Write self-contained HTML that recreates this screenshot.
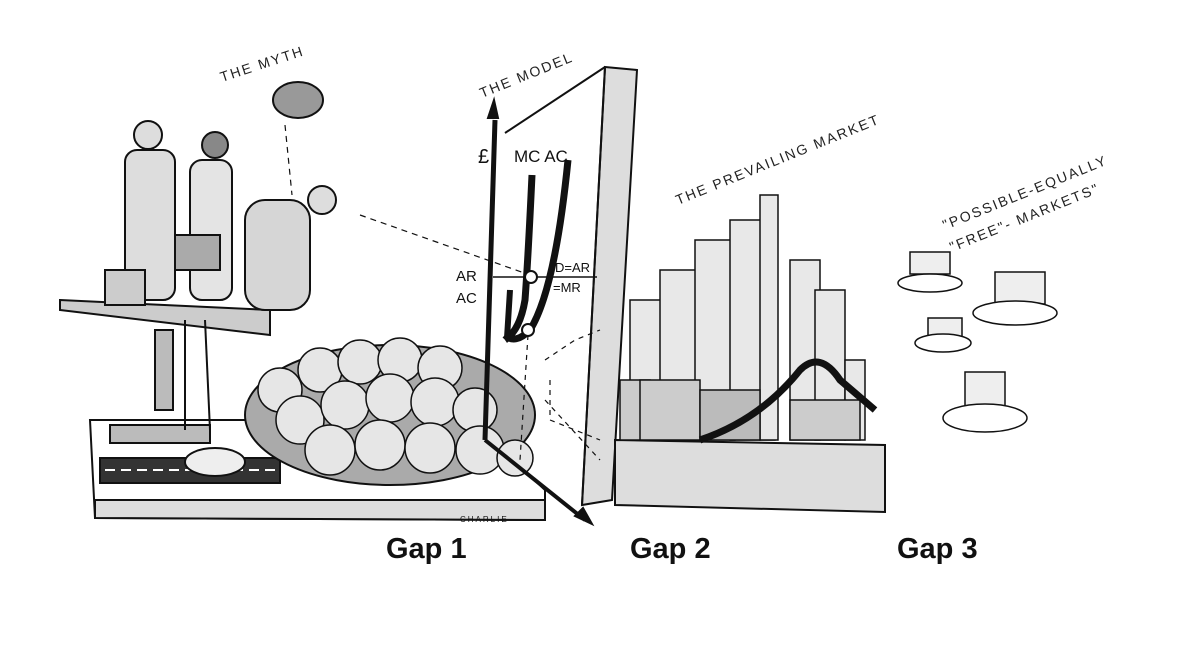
<!DOCTYPE html>
<html><head><meta charset="utf-8"><style>
body{margin:0;background:#fff;width:1200px;height:653px;overflow:hidden}
svg{display:block}
.h{font-family:"Liberation Sans",sans-serif;font-size:14px;fill:#222;letter-spacing:2px}
.g{font-family:"Liberation Sans",sans-serif;font-weight:bold;font-size:29px;fill:#111}
</style></head><body>
<svg width="1200" height="653" viewBox="0 0 1200 653" xmlns="http://www.w3.org/2000/svg" stroke="#111" stroke-width="2" fill="none">
<!-- left slab -->
<polygon points="90,420 470,420 545,490 545,520 95,518" fill="#fff"/>
<polygon points="95,500 545,500 545,520 95,518" fill="#ddd"/>
<rect x="100" y="458" width="180" height="25" fill="#333"/>
<line x1="105" y1="470" x2="275" y2="470" stroke="#fff" stroke-dasharray="10,6"/>
<rect x="110" y="425" width="100" height="18" fill="#bbb"/>
<ellipse cx="215" cy="462" rx="30" ry="14" fill="#eee"/>
<!-- trees -->
<ellipse cx="390" cy="415" rx="145" ry="70" fill="#aaa"/>
<g fill="#e6e6e6" stroke-width="1.5">
<circle cx="280" cy="390" r="22"/><circle cx="320" cy="370" r="22"/><circle cx="360" cy="362" r="22"/><circle cx="400" cy="360" r="22"/><circle cx="440" cy="368" r="22"/>
<circle cx="300" cy="420" r="24"/><circle cx="345" cy="405" r="24"/><circle cx="390" cy="398" r="24"/><circle cx="435" cy="402" r="24"/><circle cx="475" cy="410" r="22"/>
<circle cx="330" cy="450" r="25"/><circle cx="380" cy="445" r="25"/><circle cx="430" cy="448" r="25"/><circle cx="480" cy="450" r="24"/><circle cx="515" cy="458" r="18"/>
</g>
<!-- telescope & figures -->
<polygon points="60,300 270,310 270,335 60,310" fill="#ccc"/>
<rect x="155" y="330" width="18" height="80" fill="#bbb"/>
<line x1="185" y1="320" x2="185" y2="430"/><line x1="205" y1="320" x2="210" y2="430"/>
<circle cx="148" cy="135" r="14" fill="#ddd"/>
<rect x="125" y="150" width="50" height="150" rx="12" fill="#ddd"/>
<circle cx="215" cy="145" r="13" fill="#888"/>
<rect x="190" y="160" width="42" height="140" rx="12" fill="#e4e4e4"/>
<rect x="105" y="270" width="40" height="35" fill="#ccc"/>
<rect x="175" y="235" width="45" height="35" fill="#aaa"/>
<circle cx="322" cy="200" r="14" fill="#ddd"/>
<rect x="245" y="200" width="65" height="110" rx="20" fill="#d6d6d6"/>
<ellipse cx="298" cy="100" rx="25" ry="18" fill="#999"/>
<line x1="285" y1="125" x2="292" y2="195" stroke-dasharray="6,5" stroke-width="1.2"/>
<line x1="360" y1="215" x2="530" y2="275" stroke-dasharray="6,5" stroke-width="1.2"/>
<!-- board -->
<polygon points="605,67 637,70 612,500 582,505" fill="#ddd"/>
<line x1="505" y1="133" x2="605" y2="67"/>
<line x1="605" y1="67" x2="582" y2="505"/>
<line x1="485" y1="440" x2="495" y2="120" stroke-width="5"/>
<polygon points="488,118 498,118 494,100" fill="#111"/>
<line x1="485" y1="440" x2="585" y2="520" stroke-width="4"/>
<polygon points="575,516 592,524 583,508" fill="#111"/>
<line x1="493" y1="277" x2="597" y2="277" stroke-width="1.5"/>
<path d="M532 175 Q528 260 525 300 Q520 330 505 340" stroke-width="7"/>
<path d="M568 160 Q555 290 530 330 Q515 345 505 335" stroke-width="7"/>
<path d="M510 290 L507 338" stroke-width="6"/>
<circle cx="531" cy="277" r="6" fill="#fff"/><circle cx="528" cy="330" r="6" fill="#fff"/>
<line x1="528" y1="335" x2="520" y2="460" stroke-dasharray="5,5" stroke-width="1.2"/>
<path d="M545 360 L575 340 L600 330 M550 380 L550 420 L600 440 M545 400 L600 460" stroke-dasharray="5,5" stroke-width="1.2"/>
<text x="478" y="163" stroke="none" fill="#111" style="font-family:Liberation Sans;font-size:20px">£</text>
<text x="514" y="162" stroke="none" fill="#111" style="font-family:Liberation Sans;font-size:17px">MC AC</text>
<text x="456" y="281" stroke="none" fill="#111" style="font-family:Liberation Sans;font-size:15px">AR</text>
<text x="456" y="303" stroke="none" fill="#111" style="font-family:Liberation Sans;font-size:15px">AC</text>
<text x="555" y="272" stroke="none" fill="#111" style="font-family:Liberation Sans;font-size:13px">D=AR</text>
<text x="553" y="292" stroke="none" fill="#111" style="font-family:Liberation Sans;font-size:13px">=MR</text>
<!-- city slab -->
<polygon points="615,440 885,445 885,512 615,505" fill="#ddd"/>
<g fill="#e8e8e8" stroke-width="1.5">
<rect x="630" y="300" width="35" height="140"/><rect x="660" y="270" width="40" height="170"/><rect x="695" y="240" width="40" height="200"/>
<rect x="730" y="220" width="45" height="220"/><rect x="760" y="195" width="18" height="245"/><rect x="790" y="260" width="30" height="180"/>
<rect x="815" y="290" width="30" height="150"/><rect x="845" y="360" width="20" height="80"/>
<rect x="620" y="380" width="30" height="60" fill="#ccc"/>
<rect x="640" y="380" width="60" height="60" fill="#ccc"/><rect x="700" y="390" width="60" height="50" fill="#bbb"/><rect x="790" y="400" width="70" height="40" fill="#ccc"/>
</g>
<path d="M700 440 Q760 420 800 370 Q820 350 840 380 L875 410" stroke-width="7"/>
<!-- clouds -->
<g fill="#eee" stroke-width="1.5">
<rect x="910" y="252" width="40" height="22"/><ellipse cx="930" cy="283" rx="32" ry="9" fill="#fff"/>
<rect x="995" y="272" width="50" height="32"/><ellipse cx="1015" cy="313" rx="42" ry="12" fill="#fff"/>
<rect x="928" y="318" width="34" height="20"/><ellipse cx="943" cy="343" rx="28" ry="9" fill="#fff"/>
<rect x="965" y="372" width="40" height="38"/><ellipse cx="985" cy="418" rx="42" ry="14" fill="#fff"/>
</g>
<g stroke="none">
<text class="h" transform="translate(222,82) rotate(-18)">THE MYTH</text>
<text class="h" transform="translate(482,98) rotate(-22)">THE MODEL</text>
<text class="h" transform="translate(678,205) rotate(-22)">THE PREVAILING MARKET</text>
<text class="h" transform="translate(945,230) rotate(-22)">"POSSIBLE-EQUALLY</text>
<text class="h" transform="translate(952,252) rotate(-22)">"FREE"- MARKETS"</text>
<text x="460" y="522" style="font-family:Liberation Sans;font-size:8px;letter-spacing:2px" fill="#111">CHARLIE</text>
<text class="g" x="386" y="558">Gap 1</text>
<text class="g" x="630" y="558">Gap 2</text>
<text class="g" x="897" y="558">Gap 3</text>
</g>
</svg>
</body></html>
